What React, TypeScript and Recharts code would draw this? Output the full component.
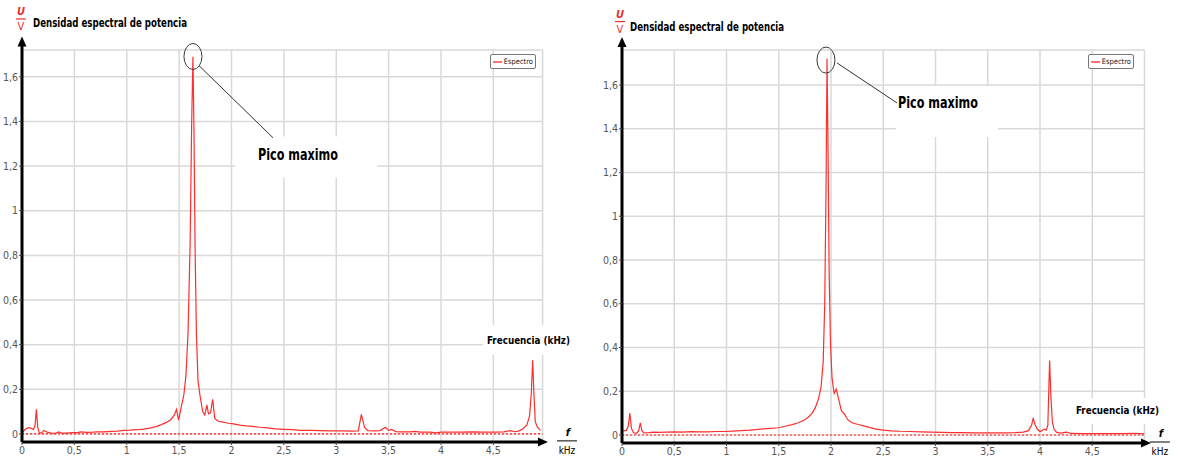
import React from 'react';
import {
  LineChart,
  Line,
  XAxis,
  YAxis,
  CartesianGrid,
  ReferenceLine,
  ReferenceDot,
  ReferenceArea,
  Legend,
} from 'recharts';

// ---------- text ----------
const SERIES_NAME = 'Espectro';
const TITLE = 'Densidad espectral de potencia';
const PEAK_LABEL = 'Pico maximo';
const FREQ_LABEL = 'Frecuencia (kHz)';
const UNIT_TOP = 'U';
const UNIT_BOTTOM = 'V';
const X_UNIT_TOP = 'f';
const X_UNIT_BOTTOM = 'kHz';

// ---------- ticks ----------
const X_TICKS = [0, 0.5, 1, 1.5, 2, 2.5, 3, 3.5, 4, 4.5];
const Y_TICKS = [0, 0.2, 0.4, 0.6, 0.8, 1, 1.2, 1.4, 1.6];

// ---------- left spectrum ----------
const LEFT_FREQ = [
  0.0, 0.03, 0.06, 0.09, 0.11, 0.125, 0.137, 0.15, 0.165, 0.19, 0.21, 0.24, 0.28, 0.32, 0.35, 0.38,
  0.43, 0.48, 0.53, 0.56, 0.62, 0.68, 0.72, 0.78, 0.85, 0.91, 0.97, 1.03, 1.1, 1.16, 1.22, 1.28,
  1.33, 1.38, 1.42, 1.455, 1.475, 1.495, 1.52, 1.545, 1.565, 1.585, 1.605, 1.62, 1.632, 1.642,
  1.652, 1.665, 1.68, 1.7, 1.725, 1.745, 1.765, 1.78, 1.8, 1.82, 1.84, 1.87, 1.92, 1.97, 2.02,
  2.08, 2.14, 2.2, 2.27, 2.34, 2.42, 2.5, 2.58, 2.66, 2.75, 2.85, 2.95, 3.05, 3.15, 3.21, 3.24,
  3.27, 3.3, 3.36, 3.42, 3.47, 3.5, 3.53, 3.57, 3.62, 3.7, 3.75, 3.8, 3.9, 3.95, 4.0, 4.1, 4.2,
  4.3, 4.4, 4.5, 4.6, 4.66, 4.7, 4.74, 4.78, 4.82, 4.845, 4.862, 4.875, 4.888, 4.9, 4.92, 4.95,
];
const LEFT_VALUE = [
  0.005, 0.02, 0.028, 0.025, 0.02, 0.04, 0.11, 0.03, 0.004, 0.006, 0.016, 0.008, 0.004, 0.003,
  0.009, 0.004, 0.004, 0.006, 0.006, 0.009, 0.007, 0.008, 0.01, 0.009, 0.012, 0.013, 0.016, 0.017,
  0.019, 0.022, 0.026, 0.033, 0.042, 0.052, 0.064, 0.085, 0.11, 0.062, 0.12, 0.175, 0.26, 0.45,
  0.85, 1.4, 1.69, 1.35, 0.85, 0.45, 0.24, 0.17, 0.1, 0.085, 0.13, 0.09, 0.095, 0.155, 0.07,
  0.058, 0.053, 0.048, 0.045, 0.04, 0.036, 0.034, 0.03, 0.027, 0.023, 0.021, 0.019, 0.016, 0.016,
  0.015, 0.014, 0.014, 0.013, 0.014, 0.088, 0.03, 0.015, 0.014, 0.015, 0.03, 0.016, 0.02, 0.01,
  0.009, 0.009, 0.012, 0.008, 0.008, 0.005, 0.008, 0.008, 0.008, 0.009, 0.008, 0.008, 0.009,
  0.015, 0.01, 0.013, 0.022, 0.04, 0.08, 0.18, 0.33, 0.17, 0.055, 0.03, 0.016,
];

// ---------- right spectrum ----------
const RIGHT_FREQ = [
  0.0, 0.04, 0.06, 0.075, 0.09, 0.11, 0.14, 0.16, 0.175, 0.19, 0.21, 0.26, 0.3, 0.36, 0.42, 0.5,
  0.58, 0.66, 0.74, 0.82, 0.9, 0.98, 1.06, 1.14, 1.22, 1.3, 1.38, 1.45, 1.5, 1.56, 1.62, 1.68,
  1.74, 1.78, 1.82, 1.85, 1.88, 1.905, 1.925, 1.94, 1.952, 1.962, 1.972, 1.982, 1.995, 2.01,
  2.03, 2.05, 2.07, 2.1, 2.13, 2.16, 2.2, 2.26, 2.34, 2.42, 2.5, 2.58, 2.66, 2.76, 2.86, 2.96,
  3.06, 3.16, 3.26, 3.36, 3.46, 3.56, 3.66, 3.76, 3.84, 3.89, 3.92, 3.935, 3.95, 3.975, 4.0,
  4.02, 4.04, 4.06, 4.075, 4.092, 4.104, 4.118, 4.135, 4.16, 4.2, 4.25, 4.3, 4.4, 4.5, 4.6, 4.7,
  4.8, 4.9, 5.0,
];
const RIGHT_VALUE = [
  0.02, 0.02, 0.04, 0.1, 0.03, 0.01, 0.008, 0.02, 0.056, 0.02, 0.01, 0.011, 0.013, 0.012, 0.013,
  0.014, 0.013, 0.015, 0.014, 0.014, 0.016, 0.016, 0.018, 0.02, 0.022, 0.026, 0.029, 0.031, 0.033,
  0.04, 0.046, 0.055, 0.067, 0.08, 0.1, 0.125, 0.165, 0.22, 0.33, 0.6, 1.1, 1.72, 1.3, 0.75, 0.42,
  0.26, 0.19, 0.21, 0.17, 0.11, 0.095, 0.07, 0.056, 0.048, 0.038, 0.028, 0.022, 0.019, 0.017,
  0.016, 0.014, 0.013, 0.012, 0.011, 0.011, 0.01, 0.01, 0.01, 0.01, 0.011, 0.013, 0.02, 0.045,
  0.078, 0.05, 0.026, 0.016, 0.02, 0.028, 0.022, 0.045, 0.34, 0.18, 0.06, 0.025, 0.012, 0.009,
  0.013, 0.007, 0.006, 0.006, 0.006, 0.006, 0.006, 0.008, 0.005,
];

// ---------- style ----------
const FONT = "'Liberation Sans Narrow', 'DejaVu Sans Condensed', 'DejaVu Sans', sans-serif";
const BOLD_FONT = "'DejaVu Sans Condensed', 'DejaVu Sans', sans-serif";
const RED = '#ff2e2e';
const GRID = '#d9d9d9';

const fmt = (v: number) => String(v).replace('.', ',');

type Pt = [number, number];
type PanelCfg = {
  left: number;
  width: number;
  height: number;
  margin: { top: number; right: number; bottom: number; left: number };
  yAxisWidth: number;
  xAxisHeight: number;
  xDomain: [number, number];
  yDomain: [number, number];
  freq: number[];
  value: number[];
  yAxisEnd: number;
  yArrowTip: number;
  xAxisEnd: number;
  xArrowTip: number;
  unit: Pt;
  title: Pt;
  ellipse: Pt;
  leader: [Pt, Pt];
  peakText: Pt;
  peakBox: [number, number, number, number];
  freqText: Pt;
  freqBox: [number, number, number, number];
  xUnit: Pt;
  legend: { left: number; top: number };
};

const PANELS: PanelCfg[] = [
  {
    left: 0,
    width: 600,
    height: 461,
    margin: { top: 50, right: 57.4, bottom: 0, left: 0 },
    yAxisWidth: 22,
    xAxisHeight: 19,
    xDomain: [0, 4.97],
    yDomain: [-0.036, 1.72],
    freq: LEFT_FREQ,
    value: LEFT_VALUE,
    yAxisEnd: 1.753,
    yArrowTip: 1.78,
    xAxisEnd: 4.964,
    xArrowTip: 5.021,
    unit: [-0.01, 1.859],
    title: [0.105, 1.839],
    ellipse: [1.632, 1.691],
    leader: [
      [1.69, 1.65],
      [2.396, 1.327],
    ],
    peakText: [2.253, 1.251],
    peakBox: [2.033, 3.39, 1.148, 1.332],
    freqText: [4.439, 0.417],
    freqBox: [4.4, 5.28, 0.354, 0.489],
    xUnit: [5.203, -0.031],
    legend: { left: 490, top: 54 },
  },
  {
    left: 600,
    width: 578,
    height: 461,
    margin: { top: 50, right: 33.5, bottom: 0, left: 0 },
    yAxisWidth: 22,
    xAxisHeight: 18,
    xDomain: [0, 5.0],
    yDomain: [-0.0366, 1.76],
    freq: RIGHT_FREQ,
    value: RIGHT_VALUE,
    yAxisEnd: 1.792,
    yArrowTip: 1.819,
    xAxisEnd: 5.005,
    xArrowTip: 5.062,
    unit: [-0.019, 1.89],
    title: [0.077, 1.865],
    ellipse: [1.952, 1.714],
    leader: [
      [2.057, 1.701],
      [2.632, 1.518],
    ],
    peakText: [2.641, 1.518],
    peakBox: [2.622, 3.598, 1.362, 1.595],
    freqText: [4.344, 0.11],
    freqBox: [4.287, 5.196, 0.05, 0.169],
    xUnit: [5.148, -0.032],
    legend: { left: 488, top: 54 },
  },
];

const ArrowUp = (p: any) => (
  <polygon points={`${p.cx},${p.cy} ${p.cx - 4.5},${p.cy + 10} ${p.cx + 4.5},${p.cy + 10}`} fill="#000" />
);
const ArrowRight = (p: any) => (
  <polygon points={`${p.cx},${p.cy} ${p.cx - 10},${p.cy - 4.5} ${p.cx - 10},${p.cy + 4.5}`} fill="#000" />
);
const EllipseShape = (p: any) => (
  <ellipse cx={p.cx} cy={p.cy} rx={9} ry={13} fill="none" stroke="#3a3a3a" strokeWidth={1} />
);

const makeText =
  (text: string, size: number, weight: string, len: number, family: string) => (p: any) =>
    (
      <text
        x={p.cx}
        y={p.cy}
        dominantBaseline="central"
        fontSize={size}
        fontWeight={weight}
        fontFamily={family}
        fill="#000"
        textLength={len}
        lengthAdjust="spacingAndGlyphs"
      >
        {text}
      </text>
    );

const TitleShape = makeText(TITLE, 11.5, 'bold', 154, BOLD_FONT);
const PeakShape = makeText(PEAK_LABEL, 15, '600', 80, BOLD_FONT);
const FreqShape = makeText(FREQ_LABEL, 11, 'bold', 83, BOLD_FONT);

const UnitShape = (p: any) => (
  <g>
    <text
      x={p.cx}
      y={p.cy - 7}
      textAnchor="middle"
      dominantBaseline="central"
      fill="#e8302a"
      fontSize={11}
      fontWeight="bold"
      fontStyle="italic"
      fontFamily={BOLD_FONT}
    >
      {UNIT_TOP}
    </text>
    <line x1={p.cx - 5} x2={p.cx + 5} y1={p.cy} y2={p.cy} stroke="#e8302a" strokeWidth={1.2} />
    <text
      x={p.cx}
      y={p.cy + 7.5}
      textAnchor="middle"
      dominantBaseline="central"
      fill="#e8302a"
      fontSize={11}
      fontFamily={BOLD_FONT}
    >
      {UNIT_BOTTOM}
    </text>
  </g>
);

const XUnitShape = (p: any) => (
  <g>
    <text
      x={p.cx + 1}
      y={p.cy - 8}
      textAnchor="middle"
      dominantBaseline="central"
      fill="#000"
      fontSize={11}
      fontWeight="bold"
      fontStyle="italic"
      fontFamily={BOLD_FONT}
    >
      {X_UNIT_TOP}
    </text>
    <line x1={p.cx - 10} x2={p.cx + 10} y1={p.cy} y2={p.cy} stroke="#000" strokeWidth={1} />
    <text
      x={p.cx}
      y={p.cy + 10}
      textAnchor="middle"
      dominantBaseline="central"
      fill="#000"
      fontSize={10}
      fontFamily={BOLD_FONT}
    >
      {X_UNIT_BOTTOM}
    </text>
  </g>
);

const LegendBox = (props: any) => {
  const item = props.payload && props.payload[0];
  return (
    <div
      style={{
        width: 46,
        height: 15,
        border: '1.5px solid #777',
        borderRadius: 2,
        boxSizing: 'border-box',
        display: 'flex',
        alignItems: 'center',
        background: '#fff',
        padding: '0 2px',
      }}
    >
      <span style={{ display: 'inline-block', width: 12, height: 2, background: '#ff7070', marginRight: 2 }} />
      <span style={{ fontSize: 7.5, fontFamily: FONT, color: '#222', whiteSpace: 'nowrap' }}>
        {item ? item.value : SERIES_NAME}
      </span>
    </div>
  );
};

const Panel = ({ cfg }: { cfg: PanelCfg }) => {
  const data = cfg.freq.map((f, i) => ({ f, v: cfg.value[i] }));
  const yMin = cfg.yDomain[0];
  return (
    <div style={{ position: 'absolute', left: cfg.left, top: 0, width: cfg.width, height: cfg.height }}>
      <LineChart width={cfg.width} height={cfg.height} data={data} margin={cfg.margin}>
        <CartesianGrid stroke={GRID} strokeWidth={1.5} />
        <XAxis
          dataKey="f"
          type="number"
          domain={cfg.xDomain}
          ticks={X_TICKS}
          allowDataOverflow
          height={cfg.xAxisHeight}
          axisLine={false}
          tickLine={{ stroke: '#444' }}
          tickSize={3}
          tickMargin={2}
          tickFormatter={fmt}
          tick={{ fontSize: 10.5, fill: '#555', fontFamily: FONT }}
          interval={0}
        />
        <YAxis
          dataKey="v"
          type="number"
          domain={cfg.yDomain}
          ticks={Y_TICKS}
          allowDataOverflow
          width={cfg.yAxisWidth}
          axisLine={false}
          tickLine={{ stroke: '#444' }}
          tickSize={3}
          tickMargin={1}
          tickFormatter={fmt}
          tick={{ fontSize: 10.5, fill: '#555', fontFamily: FONT }}
          interval={0}
        />
        <ReferenceArea
          x1={cfg.peakBox[0]}
          x2={cfg.peakBox[1]}
          y1={cfg.peakBox[2]}
          y2={cfg.peakBox[3]}
          fill="#fff"
          fillOpacity={1}
          stroke="none"
          ifOverflow="visible"
        />
        <ReferenceArea
          x1={cfg.freqBox[0]}
          x2={cfg.freqBox[1]}
          y1={cfg.freqBox[2]}
          y2={cfg.freqBox[3]}
          fill="#fff"
          fillOpacity={1}
          stroke="none"
          ifOverflow="visible"
        />
        <ReferenceLine y={0} stroke="#ff1f1f" strokeDasharray="2 2" strokeWidth={1.2} />
        <Line
          type="linear"
          dataKey="v"
          name={SERIES_NAME}
          stroke={RED}
          strokeWidth={1.2}
          dot={false}
          activeDot={false}
          isAnimationActive={false}
        />
        <ReferenceLine
          segment={[
            { x: 0, y: yMin },
            { x: 0, y: cfg.yAxisEnd },
          ]}
          stroke="#000"
          strokeWidth={3}
          ifOverflow="visible"
        />
        <ReferenceLine
          segment={[
            { x: 0, y: yMin },
            { x: cfg.xAxisEnd, y: yMin },
          ]}
          stroke="#000"
          strokeWidth={3}
          ifOverflow="visible"
        />
        <ReferenceDot x={0} y={cfg.yArrowTip} r={1} shape={ArrowUp} ifOverflow="visible" />
        <ReferenceDot x={cfg.xArrowTip} y={yMin} r={1} shape={ArrowRight} ifOverflow="visible" />
        <ReferenceDot x={cfg.ellipse[0]} y={cfg.ellipse[1]} r={1} shape={EllipseShape} ifOverflow="visible" />
        <ReferenceLine
          segment={[
            { x: cfg.leader[0][0], y: cfg.leader[0][1] },
            { x: cfg.leader[1][0], y: cfg.leader[1][1] },
          ]}
          stroke="#333"
          strokeWidth={1}
          ifOverflow="visible"
        />
        <ReferenceDot x={cfg.peakText[0]} y={cfg.peakText[1]} r={1} shape={PeakShape} ifOverflow="visible" />
        <ReferenceDot x={cfg.freqText[0]} y={cfg.freqText[1]} r={1} shape={FreqShape} ifOverflow="visible" />
        <ReferenceDot x={cfg.title[0]} y={cfg.title[1]} r={1} shape={TitleShape} ifOverflow="visible" />
        <ReferenceDot x={cfg.unit[0]} y={cfg.unit[1]} r={1} shape={UnitShape} ifOverflow="visible" />
        <ReferenceDot x={cfg.xUnit[0]} y={cfg.xUnit[1]} r={1} shape={XUnitShape} ifOverflow="visible" />
        <Legend
          layout="horizontal"
          verticalAlign="middle"
          align="center"
          content={LegendBox}
          wrapperStyle={{ position: 'absolute', left: cfg.legend.left, top: cfg.legend.top, width: 46, height: 15 }}
        />
      </LineChart>
    </div>
  );
};

export default function App() {
  return (
    <div
      style={{
        position: 'absolute',
        left: 0,
        top: 0,
        width: 1178,
        height: 461,
        background: '#fff',
        overflow: 'hidden',
      }}
    >
      {PANELS.map((cfg, i) => (
        <Panel key={i} cfg={cfg} />
      ))}
    </div>
  );
}
